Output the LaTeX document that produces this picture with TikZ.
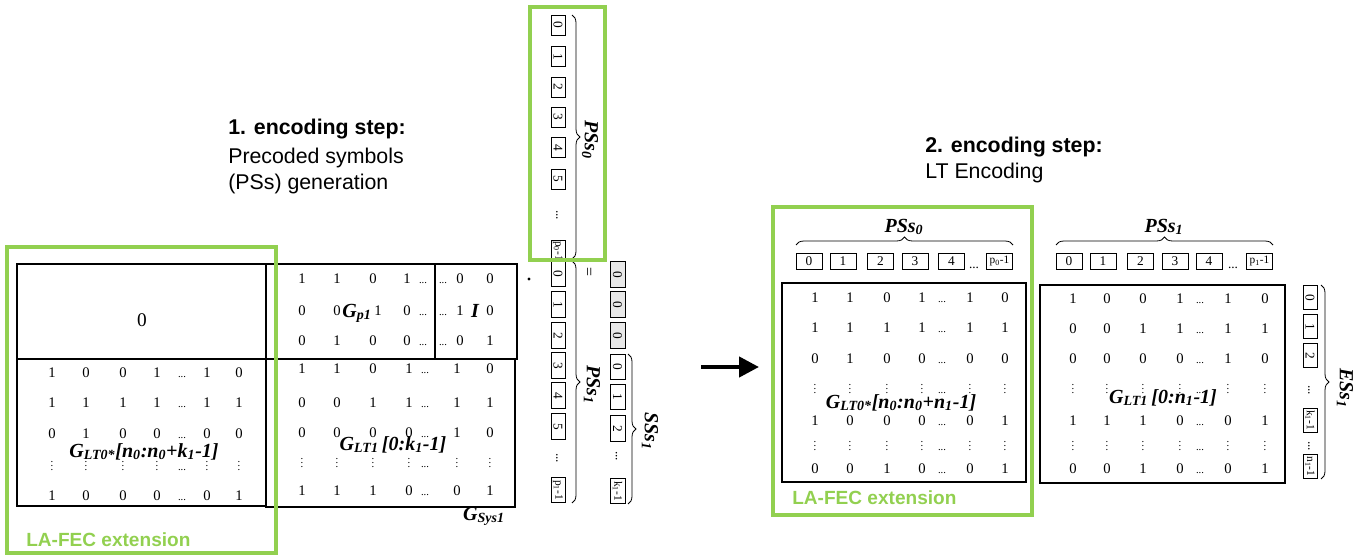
\documentclass[tikz,border=0pt]{standalone}
\usepackage{fontspec}
\setmainfont{Liberation Serif}
\setsansfont{Liberation Sans}
\usetikzlibrary{decorations.pathreplacing,arrows.meta}
\definecolor{lagreen}{RGB}{146,208,80}
\definecolor{boxgray}{RGB}{232,232,232}
\newcommand\mydd{{\fontsize{8}{8}\selectfont...}}
\newcommand\myvd{\vbox{\fontsize{8}{8}\selectfont\baselineskip2.8pt\lineskiplimit0pt\hbox{.}\hbox{.}\hbox{.}}}
\newcommand\mrow[3]{\foreach \x/\v [count=\c] in {#3} {\node[cell] (#1-\c) at (\x,#2) {\v};}}
\begin{document}
\begin{tikzpicture}[x=0.75pt,y=-0.75pt,
  cell/.style={anchor=base,inner sep=0pt,font=\fontsize{11}{11}\selectfont},
  lab/.style={anchor=base,inner sep=0pt,font=\fontsize{15}{15}\selectfont\bfseries\itshape},
  rlab/.style={lab,anchor=center,rotate=-90},
  heading/.style={anchor=base west,inner sep=0pt,font=\fontsize{16}{16}\selectfont\sffamily},
  headb/.style={heading,font=\fontsize{16}{16}\selectfont\sffamily\bfseries},
  lafec/.style={anchor=base west,inner sep=0pt,font=\fontsize{14.3}{14.3}\selectfont\sffamily\bfseries,text=lagreen},
  greenbox/.style={draw=lagreen,line width=2.3pt},
  matline/.style={draw,line width=0.9pt},
  vbox/.style={draw,line width=0.6pt,rotate=-90,inner sep=0.5pt,minimum height=10.5pt,font=\fontsize{10}{10}\selectfont},
  hbox/.style={draw,line width=0.6pt,inner sep=0.5pt,minimum width=19.5pt,minimum height=12pt,font=\fontsize{10}{10}\selectfont},
  smalltxt/.style={font=\fontsize{8.5}{8.5}\selectfont},
  dotsn/.style={inner sep=0pt,font=\fontsize{10}{10}\selectfont},
  brace/.style={decorate,decoration={brace,amplitude=6pt},line width=0.6pt},
  arrowst/.style={-{Triangle[length=15pt,width=15pt]},line width=3.2pt}
]
\useasboundingbox (0,0) rectangle (1369,556);

% ---------- headings ----------
\node[headb] (h1a) at (228,135) {1. encoding step:};
\node[heading] (h1b) at (228,163) {Precoded symbols};
\node[heading] (h1c) at (228,190) {(PSs) generation};
\node[headb] (h2a) at (925,152) {2. encoding step:};
\node[heading] (h2b) at (925,178) {LT Encoding};

% ---------- left matrices ----------
\draw[matline] (17,264) rectangle (266,506);
\draw[matline] (17,359) -- (266,359);
\draw[matline] (266,264) -- (266,507);
\draw[matline] (266,264) rectangle (517,359);
\draw[matline] (435,264) -- (435,359);
\draw[matline] (266,359) rectangle (515,507);

\node[font=\fontsize{14.5}{14.5}\selectfont] (zero) at (142,320) {0};

\mrow{la1}{377}{52/1,86/0,123/0,157/1,182/\mydd,207/1,239/0}
\mrow{la2}{407}{52/1,86/1,123/1,157/1,182/\mydd,207/1,239/1}
\mrow{la3}{438}{52/0,86/1,123/0,157/0,182/\mydd,207/0,239/0}
\mrow{la4}{470}{52/\myvd,86/\myvd,123/\myvd,157/\myvd,182/\mydd,207/\myvd,239/\myvd}
\mrow{la5}{500}{52/1,86/0,123/0,157/0,182/\mydd,207/0,239/1}
\node[lab] (glt0a) at (144,457) {G\textsubscript{LT0*}[n\textsubscript{0}:n\textsubscript{0}+k\textsubscript{1}-1]};

\mrow{gp1}{283}{302/1,337/1,373/0,407/1,423/\mydd,443/\mydd,460/0,490/0}
\mrow{gp2}{315}{302/0,337/0,378/1,407/0,423/\mydd,443/\mydd,460/1,490/0}
\mrow{gp3}{345}{302/0,337/1,373/0,407/0,423/\mydd,443/\mydd,460/0,490/1}
\node[lab] (gp) at (357,317) {G\textsubscript{p1}};
\node[lab] (ii) at (475,317) {I};

\mrow{gm1}{373}{302/1,337/1,373/0,409/1,425/\mydd,457/1,490/0}
\mrow{gm2}{407}{302/0,337/0,373/1,409/1,425/\mydd,457/1,490/1}
\mrow{gm3}{437}{302/0,337/0,373/0,409/0,425/\mydd,457/1,490/0}
\mrow{gm4}{467}{302/\myvd,337/\myvd,373/\myvd,409/\myvd,425/\mydd,457/\myvd,490/\myvd}
\mrow{gm5}{495}{302/1,337/1,373/1,409/0,425/\mydd,457/0,490/1}
\node[lab] (glt1a) at (393,450) {G\textsubscript{LT1}\,[0:k\textsubscript{1}-1]};
\node[lab] (gsys) at (484,520) {G\textsubscript{Sys1}};

% ---------- dot and equals ----------
\node[circle,fill,inner sep=0pt,minimum size=2.3pt] (mul) at (529,279) {};
\node[rotate=90,inner sep=0pt,font=\fontsize{12}{12}\selectfont] (eq) at (591,272) {=};

% ---------- PSs0 column ----------
\foreach \y/\t [count=\i] in {25/0,56.5/1,87/2,117/3,147.5/4,179/5}
  \node[vbox,minimum width=15pt] (pa\i) at (558,\y) {\t};
\node[dotsn,rotate=-90] (pad) at (557,215) {...};
\node[vbox,minimum width=14pt,smalltxt] (pap) at (558,251) {p\textsubscript{0}-1};
\coordinate (bra1) at (572,15);
\coordinate (bra2) at (572,259);
\draw[brace] (bra1) -- (bra2);
\node[rlab] (pss0c) at (590,140) {PSs\textsubscript{0}};

% ---------- PSs1 column ----------
\foreach \y/\t [count=\i] in {274/0,304.5/1,335.5/2,365.5/3,395.5/4,426.5/5}
  \node[vbox,minimum width=19pt] (pb\i) at (558,\y) {\t};
\node[dotsn,rotate=-90] (pbd) at (557,458) {...};
\node[vbox,minimum width=19pt,smalltxt] (pbp) at (558,490) {p\textsubscript{1}-1};
\coordinate (brb1) at (572,261);
\coordinate (brb2) at (572,503);
\draw[brace] (brb1) -- (brb2);
\node[rlab] (pss1c) at (592,385) {PSs\textsubscript{1}};

% ---------- SSs1 column ----------
\foreach \y [count=\i] in {274.5,304.5,335.5}
  \node[vbox,fill=boxgray,minimum width=19pt,minimum height=11.25pt] (sg\i) at (617.5,\y) {0};
\foreach \y/\t [count=\i] in {367/0,397/1,428.5/2}
  \node[vbox,minimum width=19pt,minimum height=11.25pt] (sw\i) at (617.5,\y) {\t};
\node[dotsn,rotate=-90] (swd) at (616.5,456) {...};
\node[vbox,minimum width=19pt,minimum height=11.25pt,smalltxt] (swk) at (617.5,491) {k\textsubscript{1}-1};
\coordinate (brc1) at (628,354);
\coordinate (brc2) at (628,504);
\draw[brace] (brc1) -- (brc2);
\node[rlab] (sss1c) at (650,431) {SSs\textsubscript{1}};

% ---------- arrow ----------
\coordinate (arA) at (701,367);
\coordinate (arB) at (759,367);
\draw[arrowst] (arA) -- (arB);

% ---------- right: GLT0* ----------
\draw[matline] (782,283) rectangle (1026,482);
\foreach \x/\t [count=\i] in {809/0,843/1,880.5/2,915/3,951.5/4}
  \node[hbox] (ra\i) at (\x,261) {\t};
\node[dotsn,anchor=base] (rad) at (974,268) {...};
\node[hbox,minimum width=20pt,smalltxt] (rap) at (999.5,261) {p\textsubscript{0}-1};
\coordinate (brd1) at (796,245);
\coordinate (brd2) at (1013,245);
\draw[brace] (brd1) -- (brd2);
\node[lab] (pss0r) at (904,232) {PSs\textsubscript{0}};

\mrow{ma1}{302}{815/1,850/1,887/0,922/1,942/\mydd,970/1,1005/0}
\mrow{ma2}{332}{815/1,850/1,887/1,922/1,942/\mydd,970/1,1005/1}
\mrow{ma3}{363}{815/0,850/1,887/0,922/0,942/\mydd,970/0,1005/0}
\mrow{ma4}{393}{815/\myvd,850/\myvd,887/\myvd,922/\myvd,942/\mydd,970/\myvd,1005/\myvd}
\mrow{ma5}{425}{815/1,850/0,887/0,922/0,942/\mydd,970/0,1005/1}
\mrow{ma6}{450}{815/\myvd,850/\myvd,887/\myvd,922/\myvd,942/\mydd,970/\myvd,1005/\myvd}
\mrow{ma7}{473}{815/0,850/0,887/1,922/0,942/\mydd,970/0,1005/1}
\node[lab] (glt0b) at (901,408) {G\textsubscript{LT0*}[n\textsubscript{0}:n\textsubscript{0}+n\textsubscript{1}-1]};

% ---------- right: GLT1 ----------
\draw[matline] (1040,285) rectangle (1285,483);
\foreach \x/\t [count=\i] in {1069/0,1103/1,1140.5/2,1175/3,1209/4}
  \node[hbox] (rb\i) at (\x,261) {\t};
\node[dotsn,anchor=base] (rbd) at (1233,268) {...};
\node[hbox,minimum width=20pt,smalltxt] (rbp) at (1259.5,261) {p\textsubscript{1}-1};
\coordinate (bre1) at (1056,245);
\coordinate (bre2) at (1273,245);
\draw[brace] (bre1) -- (bre2);
\node[lab] (pss1r) at (1164,232) {PSs\textsubscript{1}};

\mrow{mb1}{303}{1073/1,1107/0,1143/0,1180/1,1200/\mydd,1228/1,1265/0}
\mrow{mb2}{333}{1073/0,1107/0,1143/1,1180/1,1200/\mydd,1228/1,1265/1}
\mrow{mb3}{363}{1073/0,1107/0,1143/0,1180/0,1200/\mydd,1228/1,1265/0}
\mrow{mb4}{393}{1073/\myvd,1107/\myvd,1143/\myvd,1180/\myvd,1200/\mydd,1228/\myvd,1265/\myvd}
\mrow{mb5}{425}{1073/1,1107/1,1143/1,1180/0,1200/\mydd,1228/0,1265/1}
\mrow{mb6}{450}{1073/\myvd,1107/\myvd,1143/\myvd,1180/\myvd,1200/\mydd,1228/\myvd,1265/\myvd}
\mrow{mb7}{473}{1073/0,1107/0,1143/1,1180/0,1200/\mydd,1228/0,1265/1}
\node[lab] (glt1b) at (1163,403) {G\textsubscript{LT1}\,[0:n\textsubscript{1}-1]};

% ---------- ESs1 column ----------
\node[vbox,minimum width=18.5pt] (e1) at (1310,297.5) {0};
\node[vbox,minimum width=17.5pt] (e2) at (1310,326.5) {1};
\node[vbox,minimum width=17.5pt] (e3) at (1310,355.5) {2};
\node[dotsn,rotate=-90] (ed1) at (1309,390) {...};
\node[vbox,minimum width=18pt,smalltxt] (e4) at (1310,420) {k\textsubscript{1}-1};
\node[dotsn,rotate=-90] (ed2) at (1309,446) {...};
\node[vbox,minimum width=17.5pt,smalltxt] (e5) at (1310,466.5) {n\textsubscript{1}-1};
\coordinate (brf1) at (1321,285);
\coordinate (brf2) at (1321,479);
\draw[brace] (brf1) -- (brf2);
\node[rlab] (ess1c) at (1345,388) {ESs\textsubscript{1}};

% ---------- green boxes ----------
\draw[greenbox] (7,247) rectangle (276,553);
\draw[greenbox] (530,7) rectangle (605,260);
\draw[greenbox] (773,207) rectangle (1032,515);
\node[lafec] (lafec1) at (26,546) {LA-FEC extension};
\node[lafec] (lafec2) at (792,504) {LA-FEC extension};
\end{tikzpicture}
\end{document}
